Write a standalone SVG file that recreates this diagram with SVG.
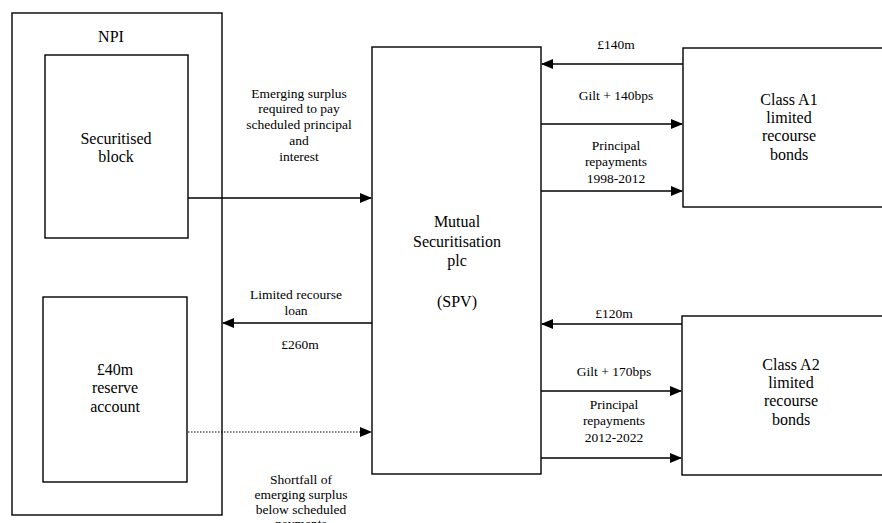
<svg xmlns="http://www.w3.org/2000/svg" width="882" height="523" viewBox="0 0 882 523">
<style>
.box{fill:none;stroke:#000;stroke-width:1.4}
.t{fill:#000;text-anchor:middle}
.big{font-size:16px}
.lab{font-size:13.5px}
.ln{fill:none;stroke:#000;stroke-width:1.4}
.dot{stroke-dasharray:1.5 1.5;stroke-width:1.2}
</style>
<defs>
<marker id="ah" markerWidth="12" markerHeight="10" refX="11" refY="5" orient="auto" markerUnits="userSpaceOnUse">
<path d="M0,0 L12,5 L0,10 Z" fill="#000"/>
</marker>
</defs>
<rect width="882" height="523" fill="#fff"/>
<g font-family="'Liberation Serif', 'Times New Roman', serif">
<g id="npi">
<rect class="box" x="12" y="13" width="210" height="502"/>
<text class="t big" x="111" y="42">NPI</text>
</g>
<g id="securitised-block">
<rect class="box" x="45" y="55" width="143" height="183"/>
<text class="t big" x="116" y="144">Securitised</text>
<text class="t big" x="116" y="162">block</text>
</g>
<g id="reserve-account">
<rect class="box" x="43" y="297" width="144" height="185"/>
<text class="t big" x="115" y="375">£40m</text>
<text class="t big" x="115" y="393">reserve</text>
<text class="t big" x="115" y="412">account</text>
</g>
<g id="spv">
<rect class="box" x="372" y="47" width="169" height="427"/>
<text class="t big" x="457" y="227">Mutual</text>
<text class="t big" x="457" y="247">Securitisation</text>
<text class="t big" x="457" y="266">plc</text>
<text class="t big" x="457" y="307">(SPV)</text>
</g>
<g id="class-a1">
<rect class="box" x="683" y="48" width="230" height="159"/>
<text class="t big" x="789" y="105">Class A1</text>
<text class="t big" x="789" y="123">limited</text>
<text class="t big" x="789" y="141">recourse</text>
<text class="t big" x="789" y="160">bonds</text>
</g>
<g id="class-a2">
<rect class="box" x="682" y="316" width="230" height="159"/>
<text class="t big" x="791" y="370">Class A2</text>
<text class="t big" x="791" y="388">limited</text>
<text class="t big" x="791" y="406">recourse</text>
<text class="t big" x="791" y="425">bonds</text>
</g>
<g id="connectors">
<line class="ln" x1="188" y1="198" x2="371" y2="198" marker-end="url(#ah)"/>
<line class="ln" x1="372" y1="323" x2="223" y2="323" marker-end="url(#ah)"/>
<line class="ln dot" x1="188" y1="432" x2="371" y2="432" marker-end="url(#ah)"/>
<line class="ln" x1="683" y1="64" x2="542" y2="64" marker-end="url(#ah)"/>
<line class="ln" x1="541" y1="124" x2="682" y2="124" marker-end="url(#ah)"/>
<line class="ln" x1="541" y1="191" x2="682" y2="191" marker-end="url(#ah)"/>
<line class="ln" x1="682" y1="324" x2="542" y2="324" marker-end="url(#ah)"/>
<line class="ln" x1="541" y1="391" x2="681" y2="391" marker-end="url(#ah)"/>
<line class="ln" x1="541" y1="458" x2="681" y2="458" marker-end="url(#ah)"/>
<text class="t lab" x="299" y="98">Emerging surplus</text>
<text class="t lab" x="299" y="113">required to pay</text>
<text class="t lab" x="299" y="129">scheduled principal</text>
<text class="t lab" x="299" y="145">and</text>
<text class="t lab" x="299" y="161">interest</text>
<text class="t lab" x="296" y="299">Limited recourse</text>
<text class="t lab" x="296" y="315">loan</text>
<text class="t lab" x="300" y="349">£260m</text>
<text class="t lab" x="301" y="484">Shortfall of</text>
<text class="t lab" x="301" y="499">emerging surplus</text>
<text class="t lab" x="301" y="514">below scheduled</text>
<text class="t lab" x="301" y="528">payments</text>
<text class="t lab" x="616" y="49">£140m</text>
<text class="t lab" x="616" y="100">Gilt + 140bps</text>
<text class="t lab" x="616" y="150">Principal</text>
<text class="t lab" x="616" y="166">repayments</text>
<text class="t lab" x="616" y="183">1998-2012</text>
<text class="t lab" x="614" y="318">£120m</text>
<text class="t lab" x="614" y="376">Gilt + 170bps</text>
<text class="t lab" x="614" y="409">Principal</text>
<text class="t lab" x="614" y="425">repayments</text>
<text class="t lab" x="614" y="442">2012-2022</text>
</g>
</g>
</svg>
